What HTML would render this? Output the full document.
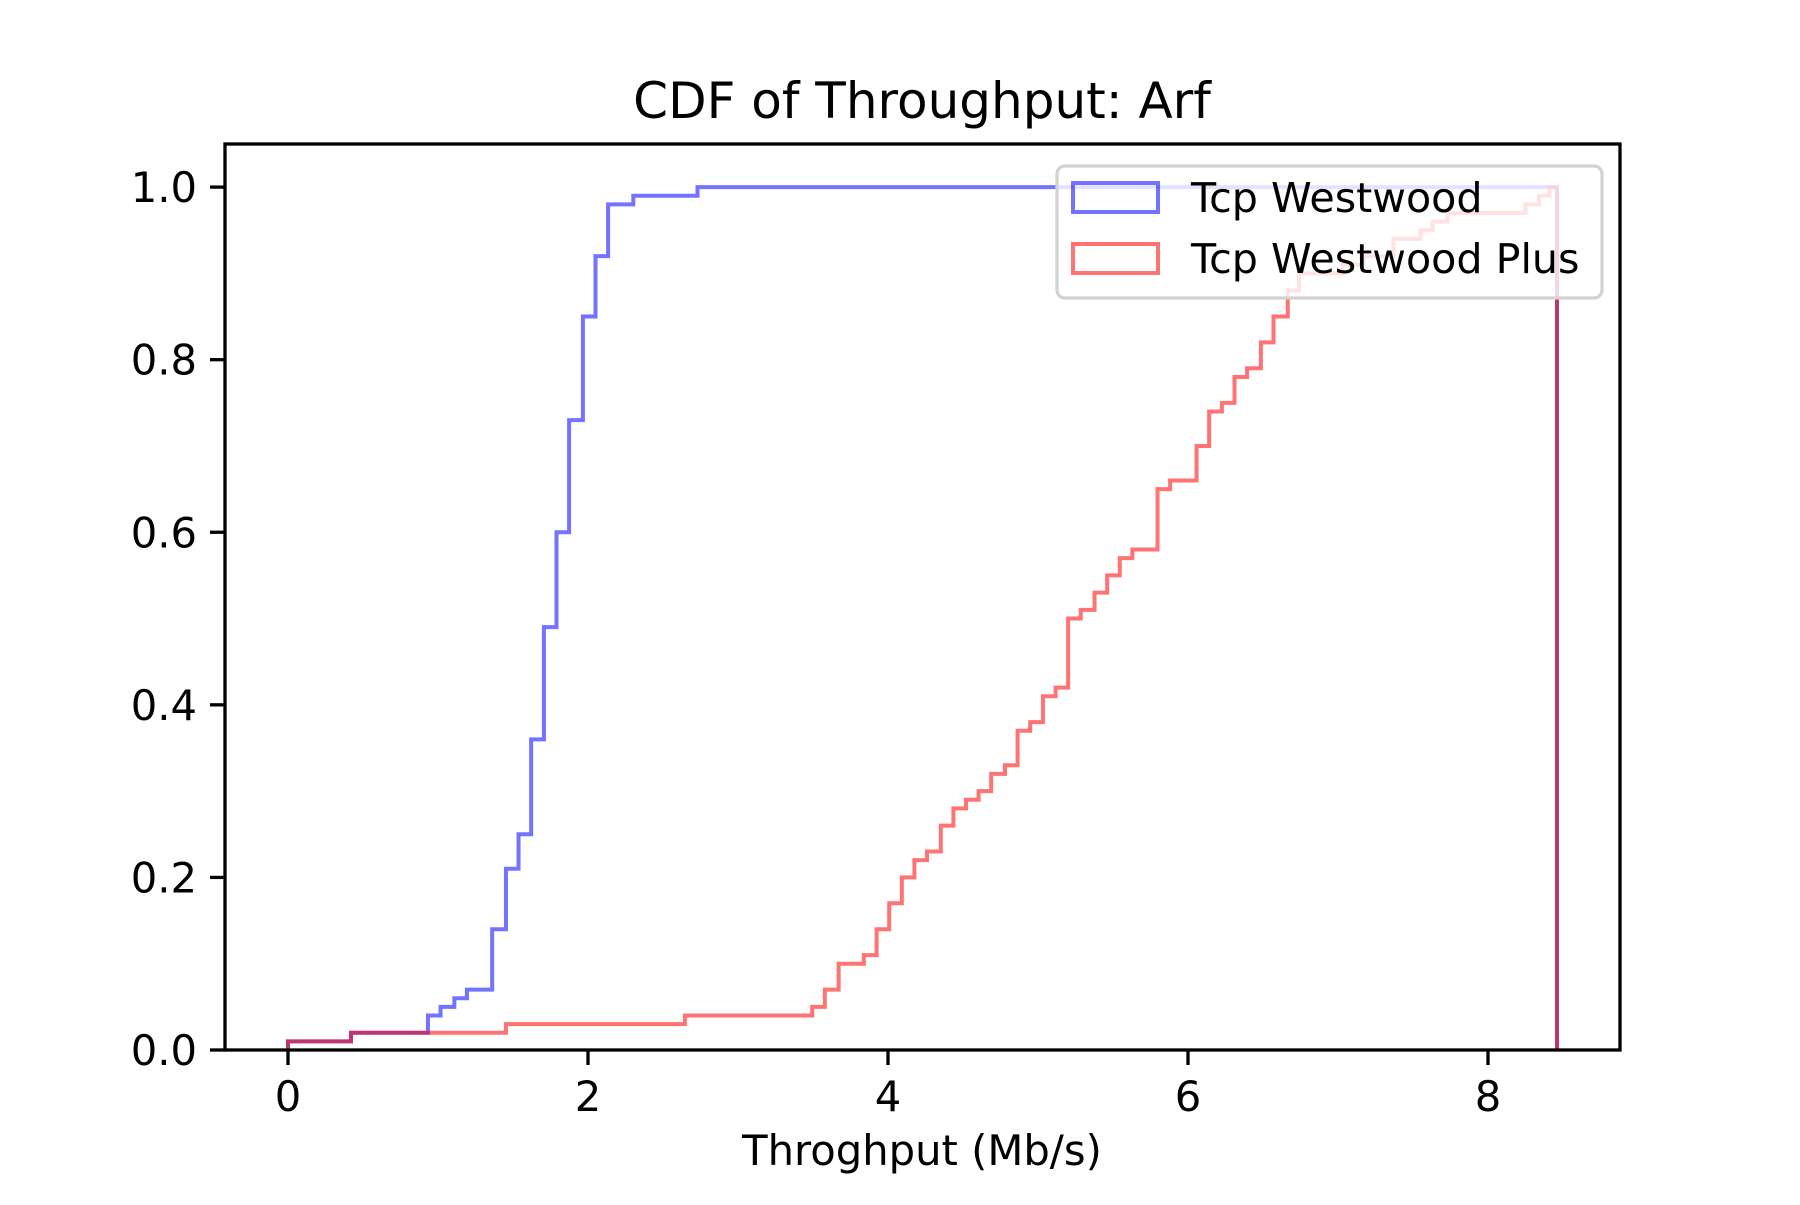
<!DOCTYPE html>
<html><head><meta charset="utf-8"><style>
html,body{margin:0;padding:0;background:#fff;}
svg text{font-family:"DejaVu Sans","Liberation Sans",sans-serif;fill:#000;}
</style></head><body>
<svg id="chart" width="1800" height="1200" viewBox="0 0 1800 1200" xmlns="http://www.w3.org/2000/svg">
<rect width="1800" height="1200" fill="#fff"/>
<text x="922" y="118" font-size="50" text-anchor="middle">CDF of Throughput: Arf</text>
<g id="series"></g>
<g id="xticks"></g>
<g id="yticks"></g>
<rect x="225" y="144" width="1395" height="906" fill="none" stroke="#000" stroke-width="3.3"/>
<text x="922" y="1165" font-size="41.7" text-anchor="middle">Throghput (Mb/s)</text>
<g>
<rect x="1057" y="166" width="545" height="132" rx="8" fill="rgba(255,255,255,0.8)" stroke="#d2d2d2" stroke-width="3.3"/>
<g>
<rect x="1073" y="183" width="85" height="29" fill="none" stroke="rgba(0,0,255,0.55)" stroke-width="4"/>
<text x="1191" y="212" font-size="41.2">Tcp Westwood</text>
</g>
<g>
<rect x="1073" y="244" width="85" height="29" fill="none" stroke="rgba(255,0,0,0.55)" stroke-width="4"/>
<text x="1191" y="273" font-size="41.2">Tcp Westwood Plus</text>
</g>
</g>
</svg>
<script>
const blueEdges = [0,0.42,0.933,1.017,1.109,1.193,1.361,1.453,1.537,1.621,1.706,1.79,1.874,1.966,2.05,2.134,2.302,2.73];
const blueValues = [0.01,0.02,0.04,0.05,0.06,0.07,0.14,0.21,0.25,0.36,0.49,0.60,0.73,0.85,0.92,0.98,0.99,1.0];
const redEdges = [0,0.42,1.453,2.646,3.495,3.579,3.671,3.839,3.924,4.008,4.092,4.176,4.26,4.352,4.436,4.52,4.604,4.688,4.78,4.864,4.948,5.033,5.117,5.201,5.285,5.377,5.461,5.545,5.629,5.797,5.881,6.057,6.141,6.226,6.31,6.394,6.486,6.57,6.665,6.74,7.03,7.17,7.37,7.55,7.63,7.73,8.25,8.34,8.41];
const redValues = [0.01,0.02,0.03,0.04,0.05,0.07,0.10,0.11,0.14,0.17,0.20,0.22,0.23,0.26,0.28,0.29,0.30,0.32,0.33,0.37,0.38,0.41,0.42,0.50,0.51,0.53,0.55,0.57,0.58,0.65,0.66,0.70,0.74,0.75,0.78,0.79,0.82,0.85,0.88,0.90,0.91,0.92,0.94,0.95,0.96,0.97,0.98,0.99,1.0];
const dataMax = 8.46;
const xTicks = [0,2,4,6,8];
const yTicks = [0,0.2,0.4,0.6,0.8,1.0];
const yTickLabels = ["0.0","0.2","0.4","0.6","0.8","1.0"];

const NS = "http://www.w3.org/2000/svg";
const xs = v => 288 + v * 150;
const ys = v => 1050 - v * 862.9;

function stepPath(edges, vals, end) {
  let d = "M" + xs(edges[0]) + "," + ys(0);
  for (let i = 0; i < edges.length; i++) {
    d += " V" + ys(vals[i]);
    const nx = i + 1 < edges.length ? edges[i + 1] : end;
    d += " H" + xs(nx);
  }
  d += " V" + ys(0);
  return d;
}
const series = document.getElementById("series");
const pb = document.createElementNS(NS, "path");
pb.setAttribute("d", stepPath(blueEdges, blueValues, dataMax));
pb.setAttribute("fill", "none");
pb.setAttribute("stroke", "rgba(0,0,255,0.55)");
pb.setAttribute("stroke-width", "4");


series.appendChild(pb);
const pr = document.createElementNS(NS, "path");
pr.setAttribute("d", stepPath(redEdges, redValues, dataMax));
pr.setAttribute("fill", "none");
pr.setAttribute("stroke", "rgba(255,0,0,0.55)");
pr.setAttribute("stroke-width", "4");


series.appendChild(pr);

const xg = document.getElementById("xticks");
xTicks.forEach(t => {
  const l = document.createElementNS(NS, "line");
  l.setAttribute("x1", xs(t)); l.setAttribute("x2", xs(t));
  l.setAttribute("y1", 1050); l.setAttribute("y2", 1065);
  l.setAttribute("stroke", "#000"); l.setAttribute("stroke-width", "3.3");
  
  
  xg.appendChild(l);
  const tx = document.createElementNS(NS, "text");
  tx.setAttribute("x", xs(t)); tx.setAttribute("y", 1111);
  tx.setAttribute("font-size", "41.7"); tx.setAttribute("text-anchor", "middle");
  tx.textContent = String(t);
  
  
  xg.appendChild(tx);
});
const yg = document.getElementById("yticks");
yTicks.forEach((t, i) => {
  const l = document.createElementNS(NS, "line");
  l.setAttribute("x1", 210); l.setAttribute("x2", 225);
  l.setAttribute("y1", ys(t)); l.setAttribute("y2", ys(t));
  l.setAttribute("stroke", "#000"); l.setAttribute("stroke-width", "3.3");
  
  
  yg.appendChild(l);
  const tx = document.createElementNS(NS, "text");
  tx.setAttribute("x", 197); tx.setAttribute("y", ys(t) + 15);
  tx.setAttribute("font-size", "41.7"); tx.setAttribute("text-anchor", "end");
  tx.textContent = yTickLabels[i];
  
  
  yg.appendChild(tx);
});
</script>
</body></html>
